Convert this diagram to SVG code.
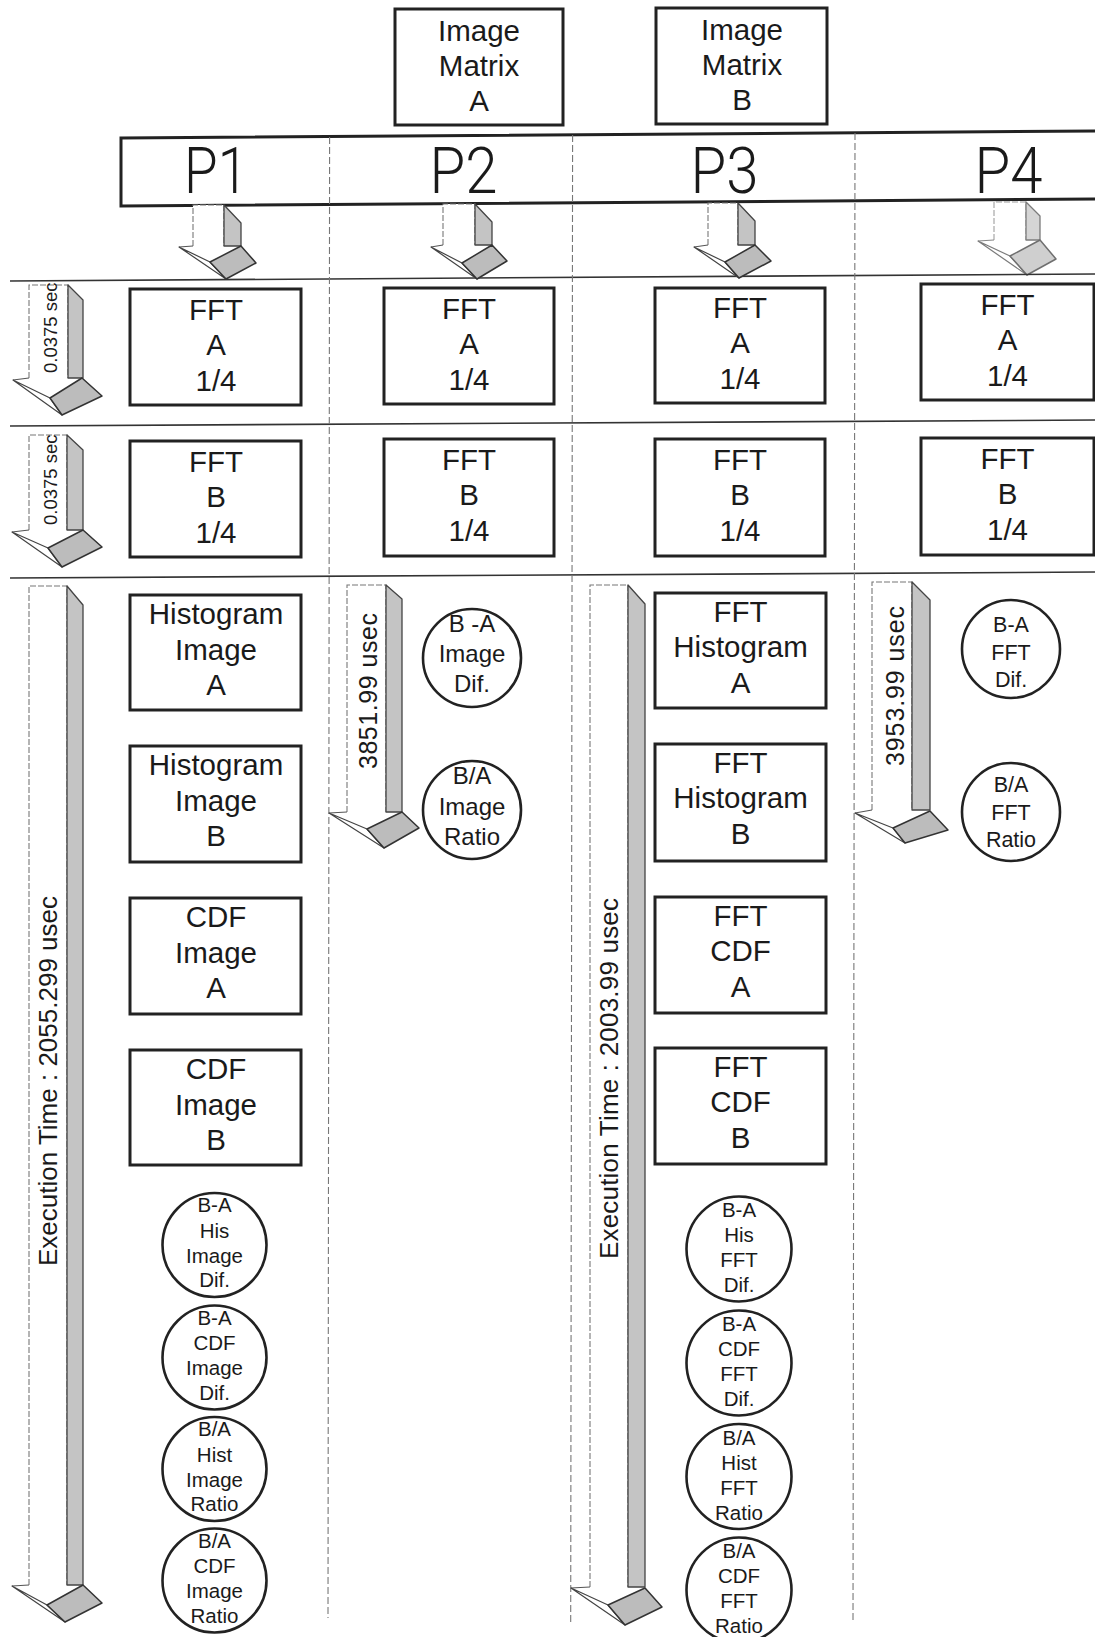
<svg xmlns="http://www.w3.org/2000/svg" width="1095" height="1637" viewBox="0 0 1095 1637">
<style>
.box{fill:#fff;stroke:#222;stroke-width:3}
.circ{fill:#fff;stroke:#222;stroke-width:2.6}
.t{font-family:"Liberation Sans",Arial,sans-serif;fill:#1a1a1a;text-anchor:middle}
.bt{font-size:29.5px}
.ct{font-size:20.5px}
.pl{font-family:Roboto,"Liberation Sans",Arial,sans-serif;font-weight:300;font-size:64px;fill:#1a1a1a;text-anchor:middle}
.rt{font-family:"Liberation Sans",Arial,sans-serif;fill:#1a1a1a}
.div{stroke:#777;stroke-width:1.1;stroke-dasharray:7 3;fill:none}
.hl{stroke:#333;stroke-width:1.6;fill:none}
.front{fill:#fff;stroke:#777;stroke-width:1.1;stroke-dasharray:6 2}
.side{fill:#c4c4c4;stroke:#444;stroke-width:1.3;stroke-linejoin:round}
.sliver{fill:#fff;stroke:#444;stroke-width:1.2;stroke-linejoin:round}
.facet{fill:#bcbcbc;stroke:#333;stroke-width:1.5;stroke-linejoin:round}
.tip{stroke:#555;stroke-width:1.1;fill:none}
</style>
<rect width="1095" height="1637" fill="#fff"/>

<g id="grid">
  <polygon points="121,138 1097,131 1097,199 121,206" fill="#fff" stroke="#222" stroke-width="3"/>
  <line class="hl" x1="10" y1="281" x2="1095" y2="274"/>
  <line class="hl" x1="10" y1="426" x2="1095" y2="420"/>
  <line class="hl" x1="10" y1="578" x2="1095" y2="572"/>
  <line class="div" x1="329.6" y1="137" x2="328" y2="1618"/>
  <line class="div" x1="572.6" y1="135" x2="570.7" y2="1623"/>
  <line class="div" x1="855" y1="133" x2="853" y2="1623"/>
</g>

<g id="proc-labels">
  <text class="pl" x="216" y="193" textLength="64" lengthAdjust="spacingAndGlyphs">P1</text>
  <text class="pl" x="463.5" y="193" textLength="68" lengthAdjust="spacingAndGlyphs">P2</text>
  <text class="pl" x="724.5" y="193" textLength="68" lengthAdjust="spacingAndGlyphs">P3</text>
  <text class="pl" x="1008.5" y="193" textLength="68" lengthAdjust="spacingAndGlyphs">P4</text>
</g>

<g id="image-matrix-a">
  <rect class="box" x="395" y="9" width="168" height="116"/>
  <text class="t bt" x="479" y="41">Image</text>
  <text class="t bt" x="479" y="76">Matrix</text>
  <text class="t bt" x="479" y="110.5">A</text>
</g>
<g id="image-matrix-b">
  <rect class="box" x="656" y="8" width="171" height="116"/>
  <text class="t bt" x="742" y="40">Image</text>
  <text class="t bt" x="742" y="75">Matrix</text>
  <text class="t bt" x="742" y="109.5">B</text>
</g>

<g id="connectors">
  <g id="arrow-p1-top">
    <path class="front" d="M193,246 V205 H224 V246"/>
    <polygon class="side" points="224,205 241,223 241,246 224,246"/>
    <line class="tip" x1="193" y1="246" x2="179" y2="247"/>
    <polygon class="sliver" points="179,247 210,262 226,279"/>
    <polygon class="facet" points="210,262 241,246 256,263 226,279"/>
  </g>
  <g id="arrow-p2-top">
    <path class="front" d="M443,245 V204 H475 V245"/>
    <polygon class="side" points="475,204 492,222 492,245 475,245"/>
    <line class="tip" x1="443" y1="245" x2="431" y2="247"/>
    <polygon class="sliver" points="431,247 462,263 477,279"/>
    <polygon class="facet" points="462,263 492,245 507,261 477,279"/>
  </g>
  <g id="arrow-p3-top">
    <path class="front" d="M708,245 V203 H738 V245"/>
    <polygon class="side" points="738,203 755,221 755,245 738,245"/>
    <line class="tip" x1="708" y1="245" x2="694" y2="247"/>
    <polygon class="sliver" points="694,247 725,262 739,278"/>
    <polygon class="facet" points="725,262 755,245 771,261 739,278"/>
  </g>
  <g id="arrow-p4-top" opacity="0.7">
    <path class="front" d="M994,240 V202 H1026 V240" stroke="#bbb"/>
    <polygon class="side" points="1026,202 1040,216 1040,240 1026,240" fill="#fff" stroke="#666"/>
    <line class="tip" x1="994" y1="240" x2="978" y2="241"/>
    <polygon class="sliver" points="978,241 1010,256 1027,275" stroke="#888"/>
    <polygon class="facet" points="1010,256 1040,240 1056,259 1027,275"/>
  </g>
  <g id="arrow-fft-a-time">
    <path class="front" d="M29,378 V285 H68 V378"/>
    <polygon class="side" points="68,285 83,300 83,378 68,378"/>
    <line class="tip" x1="29" y1="378" x2="13" y2="380"/>
    <polygon class="sliver" points="13,380 50,398 62,415"/>
    <polygon class="facet" points="50,398 82,378 102,396 62,415"/>
  </g>
  <g id="arrow-fft-b-time">
    <path class="front" d="M29,530 V435 H67 V530"/>
    <polygon class="side" points="67,435 83,450 83,530 67,530"/>
    <line class="tip" x1="29" y1="530" x2="12" y2="532"/>
    <polygon class="sliver" points="12,532 48,548 62,567"/>
    <polygon class="facet" points="48,548 83,530 102,547 62,567"/>
  </g>
  <g id="arrow-p1-exec">
    <path class="front" d="M29,1585 V586 H67 V1585"/>
    <polygon class="side" points="67,586 83,605 83,1585 67,1585"/>
    <line class="tip" x1="29" y1="1585" x2="12" y2="1586"/>
    <polygon class="sliver" points="12,1586 47,1605 65,1622"/>
    <polygon class="facet" points="47,1605 83,1585 102,1603 65,1622"/>
  </g>
  <g id="arrow-p3-exec">
    <path class="front" d="M590,1587 V585 H628 V1587"/>
    <polygon class="side" points="628,585 645,604 645,1587 628,1587"/>
    <line class="tip" x1="590" y1="1587" x2="571" y2="1588"/>
    <polygon class="sliver" points="571,1588 608,1605 625,1625"/>
    <polygon class="facet" points="608,1605 645,1588 662,1607 625,1625"/>
  </g>
  <g id="arrow-p2-exec">
    <path class="front" d="M347,812 V585 H386 V812"/>
    <polygon class="side" points="386,585 402,599 402,812 386,812"/>
    <line class="tip" x1="347" y1="812" x2="329" y2="813"/>
    <polygon class="sliver" points="329,813 367,829 384,848"/>
    <polygon class="facet" points="367,829 402,812 419,828 384,848"/>
  </g>
  <g id="arrow-p4-exec">
    <path class="front" d="M872,810 V582 H912 V810"/>
    <polygon class="side" points="912,582 930,600 930,810 912,810"/>
    <line class="tip" x1="872" y1="810" x2="855" y2="813"/>
    <polygon class="sliver" points="855,813 893,828 905,843"/>
    <polygon class="facet" points="893,828 930,811 948,830 905,843"/>
  </g>
  <text class="rt" font-size="18.5" transform="translate(57,373) rotate(-90)">0.0375 sec</text>
  <text class="rt" font-size="18.5" transform="translate(57,525) rotate(-90)">0.0375 sec</text>
  <text class="rt" font-size="26" textLength="370" transform="translate(56.5,1266) rotate(-90)">Execution Time : 2055.299 usec</text>
  <text class="rt" font-size="26" textLength="361" transform="translate(618,1259) rotate(-90)">Execution Time : 2003.99 usec</text>
  <text class="rt" font-size="25" textLength="156" transform="translate(377,769) rotate(-90)">3851.99 usec</text>
  <text class="rt" font-size="25" textLength="160" transform="translate(903.5,766) rotate(-90)">3953.99 usec</text>
</g>

<g id="p1-fft-a"><rect class="box" x="130" y="289" width="171" height="116"/>
  <text class="t bt" x="216" y="320">FFT</text><text class="t bt" x="216" y="355">A</text><text class="t bt" x="216" y="391">1/4</text></g>
<g id="p2-fft-a"><rect class="box" x="384" y="288" width="170" height="116"/>
  <text class="t bt" x="469" y="319">FFT</text><text class="t bt" x="469" y="354">A</text><text class="t bt" x="469" y="390">1/4</text></g>
<g id="p3-fft-a"><rect class="box" x="655" y="288" width="170" height="115"/>
  <text class="t bt" x="740" y="318">FFT</text><text class="t bt" x="740" y="353">A</text><text class="t bt" x="740" y="389">1/4</text></g>
<g id="p4-fft-a"><rect class="box" x="921" y="284" width="173" height="116"/>
  <text class="t bt" x="1007.5" y="315">FFT</text><text class="t bt" x="1007.5" y="350">A</text><text class="t bt" x="1007.5" y="386">1/4</text></g>

<g id="p1-fft-b"><rect class="box" x="130" y="441" width="171" height="116"/>
  <text class="t bt" x="216" y="472">FFT</text><text class="t bt" x="216" y="507">B</text><text class="t bt" x="216" y="543">1/4</text></g>
<g id="p2-fft-b"><rect class="box" x="384" y="439" width="170" height="117"/>
  <text class="t bt" x="469" y="470">FFT</text><text class="t bt" x="469" y="505">B</text><text class="t bt" x="469" y="541">1/4</text></g>
<g id="p3-fft-b"><rect class="box" x="655" y="439" width="170" height="117"/>
  <text class="t bt" x="740" y="470">FFT</text><text class="t bt" x="740" y="505">B</text><text class="t bt" x="740" y="541">1/4</text></g>
<g id="p4-fft-b"><rect class="box" x="921" y="438" width="173" height="117"/>
  <text class="t bt" x="1007.5" y="469">FFT</text><text class="t bt" x="1007.5" y="504">B</text><text class="t bt" x="1007.5" y="540">1/4</text></g>

<g id="p1-hist-a"><rect class="box" x="130" y="595" width="171" height="115"/>
  <text class="t bt" x="216" y="624">Histogram</text><text class="t bt" x="216" y="660">Image</text><text class="t bt" x="216" y="695">A</text></g>
<g id="p1-hist-b"><rect class="box" x="130" y="746" width="171" height="116"/>
  <text class="t bt" x="216" y="775">Histogram</text><text class="t bt" x="216" y="811">Image</text><text class="t bt" x="216" y="846">B</text></g>
<g id="p1-cdf-a"><rect class="box" x="130" y="898" width="171" height="116"/>
  <text class="t bt" x="216" y="927">CDF</text><text class="t bt" x="216" y="963">Image</text><text class="t bt" x="216" y="998">A</text></g>
<g id="p1-cdf-b"><rect class="box" x="130" y="1050" width="171" height="115"/>
  <text class="t bt" x="216" y="1079">CDF</text><text class="t bt" x="216" y="1115">Image</text><text class="t bt" x="216" y="1150">B</text></g>

<g id="p3-fft-hist-a"><rect class="box" x="655" y="593" width="171" height="115"/>
  <text class="t bt" x="740.5" y="622">FFT</text><text class="t bt" x="740.5" y="657">Histogram</text><text class="t bt" x="740.5" y="693">A</text></g>
<g id="p3-fft-hist-b"><rect class="box" x="655" y="744" width="171" height="117"/>
  <text class="t bt" x="740.5" y="773">FFT</text><text class="t bt" x="740.5" y="808">Histogram</text><text class="t bt" x="740.5" y="844">B</text></g>
<g id="p3-fft-cdf-a"><rect class="box" x="655" y="897" width="171" height="116"/>
  <text class="t bt" x="740.5" y="926">FFT</text><text class="t bt" x="740.5" y="961">CDF</text><text class="t bt" x="740.5" y="997">A</text></g>
<g id="p3-fft-cdf-b"><rect class="box" x="655" y="1048" width="171" height="116"/>
  <text class="t bt" x="740.5" y="1077">FFT</text><text class="t bt" x="740.5" y="1112">CDF</text><text class="t bt" x="740.5" y="1148">B</text></g>

<g id="p2-dif"><circle class="circ" cx="472" cy="658" r="49"/>
  <text class="t" font-size="24" x="472" y="632">B -A</text><text class="t" font-size="24" x="472" y="662">Image</text><text class="t" font-size="24" x="472" y="692">Dif.</text></g>
<g id="p2-ratio"><circle class="circ" cx="472" cy="810" r="49"/>
  <text class="t" font-size="24" x="472" y="784">B/A</text><text class="t" font-size="24" x="472" y="815">Image</text><text class="t" font-size="24" x="472" y="845">Ratio</text></g>

<g id="p4-dif"><circle class="circ" cx="1011" cy="649" r="49"/>
  <text class="t" font-size="21.5" x="1011" y="632">B-A</text><text class="t" font-size="21.5" x="1011" y="660">FFT</text><text class="t" font-size="21.5" x="1011" y="687">Dif.</text></g>
<g id="p4-ratio"><circle class="circ" cx="1011" cy="812" r="49"/>
  <text class="t" font-size="21.5" x="1011" y="792">B/A</text><text class="t" font-size="21.5" x="1011" y="820">FFT</text><text class="t" font-size="21.5" x="1011" y="847">Ratio</text></g>

<g id="p1-his-dif"><circle class="circ" cx="214.5" cy="1245" r="52"/>
  <text class="t ct" x="214.5" y="1212">B-A</text><text class="t ct" x="214.5" y="1237.5">His</text><text class="t ct" x="214.5" y="1262.5">Image</text><text class="t ct" x="214.5" y="1287">Dif.</text></g>
<g id="p1-cdf-dif"><circle class="circ" cx="214.5" cy="1357.5" r="52"/>
  <text class="t ct" x="214.5" y="1324.5">B-A</text><text class="t ct" x="214.5" y="1350">CDF</text><text class="t ct" x="214.5" y="1375">Image</text><text class="t ct" x="214.5" y="1399.5">Dif.</text></g>
<g id="p1-hist-ratio"><circle class="circ" cx="214.5" cy="1469" r="52"/>
  <text class="t ct" x="214.5" y="1436">B/A</text><text class="t ct" x="214.5" y="1461.5">Hist</text><text class="t ct" x="214.5" y="1486.5">Image</text><text class="t ct" x="214.5" y="1511">Ratio</text></g>
<g id="p1-cdf-ratio"><circle class="circ" cx="214.5" cy="1580.5" r="52"/>
  <text class="t ct" x="214.5" y="1547.5">B/A</text><text class="t ct" x="214.5" y="1573">CDF</text><text class="t ct" x="214.5" y="1598">Image</text><text class="t ct" x="214.5" y="1622.5">Ratio</text></g>

<g id="p3-his-dif"><circle class="circ" cx="739" cy="1249" r="52.5"/>
  <text class="t ct" x="739" y="1217">B-A</text><text class="t ct" x="739" y="1242">His</text><text class="t ct" x="739" y="1267">FFT</text><text class="t ct" x="739" y="1292">Dif.</text></g>
<g id="p3-cdf-dif"><circle class="circ" cx="739" cy="1363" r="52.5"/>
  <text class="t ct" x="739" y="1331">B-A</text><text class="t ct" x="739" y="1356">CDF</text><text class="t ct" x="739" y="1381">FFT</text><text class="t ct" x="739" y="1406">Dif.</text></g>
<g id="p3-hist-ratio"><circle class="circ" cx="739" cy="1476.5" r="52.5"/>
  <text class="t ct" x="739" y="1444.5">B/A</text><text class="t ct" x="739" y="1469.5">Hist</text><text class="t ct" x="739" y="1494.5">FFT</text><text class="t ct" x="739" y="1519.5">Ratio</text></g>
<g id="p3-cdf-ratio"><circle class="circ" cx="739" cy="1590" r="52.5"/>
  <text class="t ct" x="739" y="1558">B/A</text><text class="t ct" x="739" y="1583">CDF</text><text class="t ct" x="739" y="1608">FFT</text><text class="t ct" x="739" y="1633">Ratio</text></g>
</svg>
